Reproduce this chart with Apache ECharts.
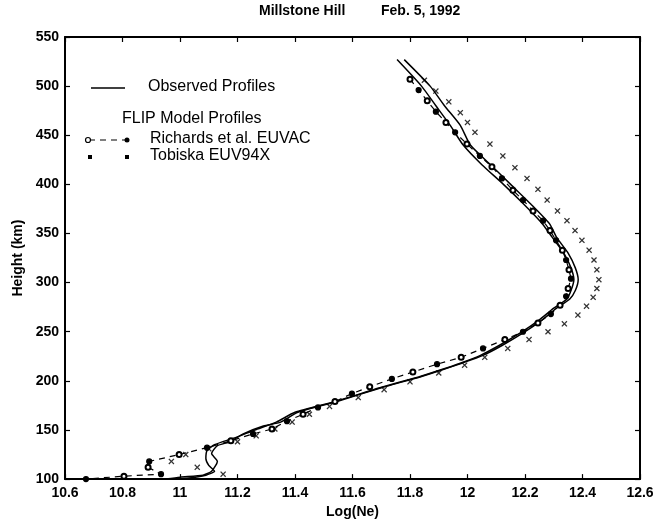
<!DOCTYPE html>
<html>
<head>
<meta charset="utf-8">
<script src="https://cdn.jsdelivr.net/npm/echarts@6/dist/echarts.min.js"></script>
<style>
html,body{margin:0;padding:0;background:#fff;}
#chart{width:672px;height:524px;}
</style>
</head>
<body>
<div id="chart"></div>
<script>
// ---- Data (height km, log Ne) ----
const obsA_h  = [527, 500, 480, 460, 440, 420, 400, 380, 360, 346, 330, 315, 303, 292, 283, 274, 261, 249, 236, 226, 218, 211, 204, 193, 179, 168, 158, 154, 146, 138, 134, 126, 118, 108, 104, 102, 100];
const obsA_ne = [11.78, 11.87, 11.92, 11.975, 12.01, 12.08, 12.15, 12.22, 12.285, 12.31, 12.35, 12.375, 12.385, 12.375, 12.355, 12.31, 12.255, 12.195, 12.12, 12.054, 11.98, 11.91, 11.835, 11.70, 11.546, 11.41, 11.35, 11.29, 11.22, 11.174, 11.13, 11.11, 11.13, 11.11, 11.08, 11.00, 10.95];
const obsB_h  = [527, 500, 480, 460, 440, 420, 400, 380, 360, 346, 330, 315, 303, 292, 283, 274, 261, 249, 236, 226, 218, 211, 204, 193, 179, 168, 158, 150, 142, 135, 129, 121, 114, 108, 104, 101, 100];
const obsB_ne = [11.755, 11.84, 11.89, 11.94, 11.985, 12.05, 12.125, 12.195, 12.26, 12.295, 12.335, 12.36, 12.37, 12.36, 12.345, 12.30, 12.245, 12.185, 12.11, 12.045, 11.975, 11.905, 11.83, 11.695, 11.54, 11.40, 11.335, 11.26, 11.19, 11.12, 11.094, 11.09, 11.10, 11.12, 11.09, 11.03, 10.97];
const rich_h  = [507, 496, 485, 474, 463, 453, 441, 429, 418, 406, 394, 384, 373, 363, 353, 343, 333, 323, 313, 304, 294, 286, 277, 268, 259, 250, 242, 233, 224, 217, 209, 202, 194, 187, 179, 173, 166, 159, 151, 146, 139, 132, 125, 118, 112, 105, 103, 100];
const rich_ne = [11.80, 11.83, 11.86, 11.89, 11.925, 11.957, 11.998, 12.043, 12.085, 12.12, 12.158, 12.193, 12.228, 12.263, 12.287, 12.308, 12.33, 12.343, 12.353, 12.36, 12.35, 12.343, 12.322, 12.29, 12.245, 12.193, 12.13, 12.054, 11.978, 11.894, 11.81, 11.737, 11.66, 11.598, 11.539, 11.48, 11.428, 11.372, 11.32, 11.254, 11.177, 11.094, 10.997, 10.893, 10.889, 10.934, 10.805, 10.673];
const tob_h   = [506, 495, 484, 473, 463, 453, 441, 429, 417, 406, 395, 384, 373, 363, 353, 343, 333, 323, 313, 303, 294, 285, 276, 267, 258, 250, 242, 233, 224, 216, 208, 199, 191, 183, 174, 166, 158, 151, 144, 138, 131, 125, 118, 112, 105];
const tob_ne  = [11.85, 11.89, 11.935, 11.975, 12.00, 12.026, 12.078, 12.123, 12.165, 12.207, 12.245, 12.277, 12.313, 12.346, 12.374, 12.398, 12.423, 12.44, 12.45, 12.457, 12.45, 12.437, 12.414, 12.384, 12.337, 12.28, 12.214, 12.14, 12.06, 11.99, 11.90, 11.80, 11.71, 11.62, 11.52, 11.45, 11.39, 11.33, 11.265, 11.20, 11.10, 11.02, 10.97, 11.06, 11.15];
const xTicks = [10.6, 10.8, 11, 11.2, 11.4, 11.6, 11.8, 12, 12.2, 12.4, 12.6];
const yTicks = [100, 150, 200, 250, 300, 350, 400, 450, 500, 550];

const pair = (ne, h) => ne.map((v, i) => [v, h[i]]);
const richData = rich_ne.map((v, i) => ({
  value: [v, rich_h[i]],
  symbol: i % 2 === 0 ? 'emptyCircle' : 'circle'
}));
const XMARK = 'path://M0,1.5L1.5,0L5,3.5L8.5,0L10,1.5L6.5,5L10,8.5L8.5,10L5,6.5L1.5,10L0,8.5L3.5,5Z';

const FONT = 'Liberation Sans, Arial, Helvetica, sans-serif';
const chart = echarts.init(document.getElementById('chart'), null, {renderer: 'canvas'});

const axisCommon = {
  axisLine: {show: true, lineStyle: {color: '#000', width: 2}},
  axisTick: {show: true, inside: true, length: 5, lineStyle: {color: '#000', width: 1.2}},
  splitLine: {show: false}
};

chart.setOption({
  backgroundColor: '#fff',
  animation: false,
  grid: {left: 65, right: 32, top: 37, bottom: 37, containLabel: false},
  xAxis: [
    Object.assign({
      type: 'value', min: 10.6, max: 12.6, interval: 0.2, position: 'bottom',
      name: 'Log(Ne)', nameLocation: 'middle', nameGap: 24,
      nameTextStyle: {fontFamily: FONT, fontSize: 14, fontWeight: 'bold', color: '#000'},
      axisLabel: {show: true, margin: 7, fontFamily: FONT, fontSize: 14, fontWeight: 'bold', color: '#000',
        formatter: v => { const t = xTicks.find(k => Math.abs(k - v) < 1e-6); return t === undefined ? '' : String(t); }}
    }, axisCommon),
    Object.assign({
      type: 'value', min: 10.6, max: 12.6, interval: 0.2, position: 'top',
      axisLabel: {show: false}
    }, axisCommon)
  ],
  yAxis: [
    Object.assign({
      type: 'value', min: 100, max: 550, interval: 50, position: 'left',
      name: 'Height (km)', nameLocation: 'middle', nameGap: 38, nameRotate: 90,
      nameTextStyle: {fontFamily: FONT, fontSize: 14, fontWeight: 'bold', color: '#000'},
      axisLabel: {show: true, margin: 6, fontFamily: FONT, fontSize: 14, fontWeight: 'bold', color: '#000',
        formatter: v => (yTicks.indexOf(v) >= 0 ? String(v) : '')}
    }, axisCommon),
    Object.assign({
      type: 'value', min: 100, max: 550, interval: 50, position: 'right',
      axisLabel: {show: false}
    }, axisCommon)
  ],
  graphic: [
    {type: 'text', left: 259, top: 4, style: {text: 'Millstone Hill', fontFamily: FONT, fontSize: 14, fontWeight: 'bold', fill: '#000'}},
    {type: 'text', left: 381, top: 4, style: {text: 'Feb. 5, 1992', fontFamily: FONT, fontSize: 14, fontWeight: 'bold', fill: '#000'}},
    // legend
    {type: 'line', shape: {x1: 91, y1: 88, x2: 125, y2: 88}, style: {stroke: '#000', lineWidth: 1.5}},
    {type: 'text', left: 148, top: 79, style: {text: 'Observed Profiles', fontFamily: FONT, fontSize: 16, fill: '#000'}},
    {type: 'text', left: 122, top: 111, style: {text: 'FLIP Model Profiles', fontFamily: FONT, fontSize: 16, fill: '#000'}},
    {type: 'line', shape: {x1: 89, y1: 140, x2: 127, y2: 140}, style: {stroke: '#000', lineWidth: 1.2, lineDash: [6, 5]}},
    {type: 'circle', shape: {cx: 88, cy: 140, r: 2.5}, style: {fill: '#fff', stroke: '#000', lineWidth: 1.2}},
    {type: 'circle', shape: {cx: 127, cy: 140, r: 2.5}, style: {fill: '#000'}},
    {type: 'text', left: 150, top: 131, style: {text: 'Richards et al. EUVAC', fontFamily: FONT, fontSize: 16, fill: '#000'}},
    {type: 'rect', shape: {x: 88, y: 155, width: 4, height: 4}, style: {fill: '#000'}},
    {type: 'rect', shape: {x: 125, y: 155, width: 4, height: 4}, style: {fill: '#000'}},
    {type: 'text', left: 150, top: 148, style: {text: 'Tobiska EUV94X', fontFamily: FONT, fontSize: 16, fill: '#000'}}
  ],
  series: [
    {name: 'Observed Profiles A', type: 'line', data: pair(obsA_ne, obsA_h), showSymbol: false, symbol: 'none',
      lineStyle: {color: '#000', width: 1.5}, smooth: 0.2, z: 3},
    {name: 'Observed Profiles B', type: 'line', data: pair(obsB_ne, obsB_h), showSymbol: false, symbol: 'none',
      lineStyle: {color: '#000', width: 1.5}, smooth: 0.2, z: 3},
    {name: 'Richards et al. EUVAC', type: 'line', data: richData, symbolSize: 5, showSymbol: true,
      itemStyle: {color: '#000', borderColor: '#000', borderWidth: 1.2},
      lineStyle: {color: '#000', width: 1.2, type: [6, 5]}, z: 4, clip: false},
    {name: 'Tobiska EUV94X', type: 'scatter', data: pair(tob_ne, tob_h), symbol: XMARK, symbolSize: 6,
      itemStyle: {color: '#000'}, z: 4}
  ]
});
</script>
</body>
</html>
